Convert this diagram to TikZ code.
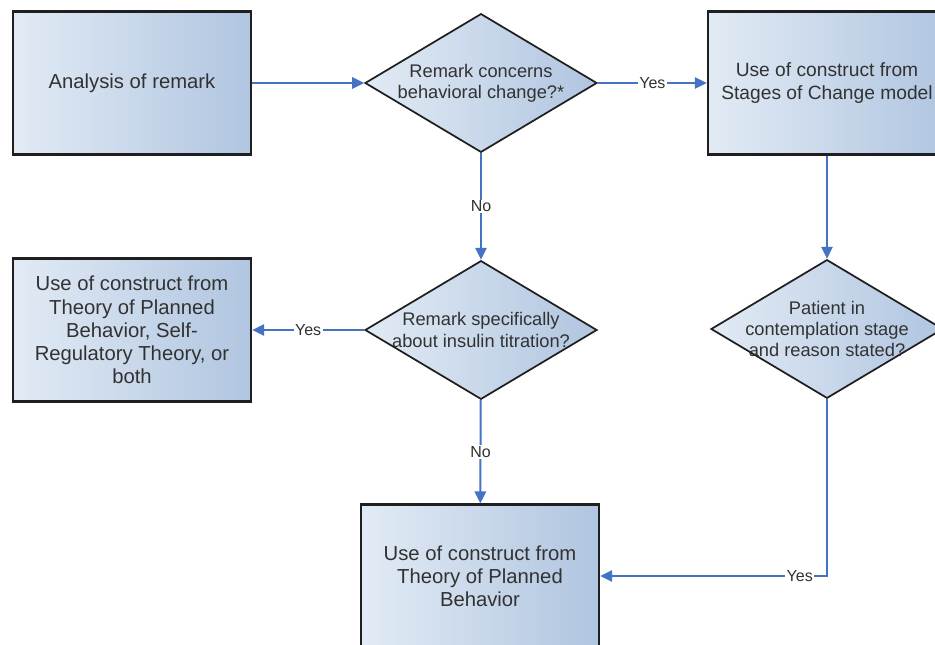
\documentclass[tikz,border=0pt]{standalone}
\usepackage{fontspec}
\setmainfont{Liberation Sans}
\usetikzlibrary{arrows.meta,shapes.geometric}
\definecolor{flowblue}{RGB}{68,114,196}
\definecolor{boxlight}{RGB}{226,235,245}
\definecolor{boxdark}{RGB}{176,197,224}
\definecolor{flowtext}{RGB}{50,50,50}
\tikzset{
  actbox/.style={rectangle, draw=black!88, line width=1.8pt,
    left color=boxlight, right color=boxdark, text=flowtext, align=center,
    minimum width=178.5pt, minimum height=107pt,
    font=\fontsize{15.2}{17.4}\selectfont},
  decbox/.style={diamond, draw=black!88, line width=1.3pt,
    left color=boxlight, right color=boxdark, text=flowtext, align=center,
    shape aspect=1.66, inner xsep=0pt, inner ysep=-6pt,
    minimum width=174pt, minimum height=104pt,
    font=\fontsize{13.7}{15.8}\selectfont},
  flow/.style={flowblue, line width=1.5pt, -{Triangle[length=9pt,width=8.5pt]}},
  answer/.style={fill=white, inner sep=1pt, text=flowtext,
    font=\fontsize{12}{14}\selectfont},
}

\begin{document}
\begin{tikzpicture}[x=0.75pt,y=-0.75pt]
\useasboundingbox (0,0) rectangle (935,645);
\node[actbox] (analysis) at (132,83) {Analysis of remark};
\node[decbox] (behav) at (481,83) {Remark concerns\\behavioral change?*};
\node[actbox, font=\fontsize{14.4}{17.4}\selectfont] (stages) at (827,83) {Use of construct from\\Stages of Change model};
\node[decbox] (titration) at (481,330) {Remark specifically\\about insulin titration?};
\node[actbox] (tpbsrt) at (132,330) {Use of construct from\\Theory of Planned\\Behavior, Self-\\Regulatory Theory, or\\both};
\node[decbox] (contempl) at (827,329) {Patient in\\contemplation stage\\and reason stated?};
\node[actbox] (tpb) at (480,576) {Use of construct from\\Theory of Planned\\Behavior};
\draw[flow] (analysis) -- (behav);
\draw[flow] (behav) -- node[answer] {Yes} (stages);
\draw[flow] (behav) -- node[answer] {No} (titration);
\draw[flow] (titration) -- node[answer] {Yes} (tpbsrt);
\draw[flow] (titration) -- node[answer] {No} (tpb);
\draw[flow] (stages) -- (contempl);
\draw[flow] (contempl) |- node[answer, pos=0.56] {Yes} (tpb);
\end{tikzpicture}
\end{document}
